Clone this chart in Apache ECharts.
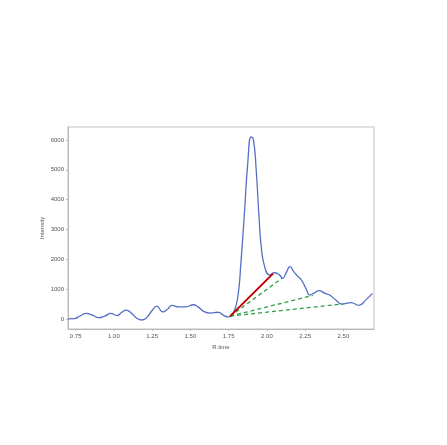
<!DOCTYPE html>
<html>
<head>
<meta charset="utf-8">
<script src="https://cdn.jsdelivr.net/npm/echarts@6/dist/echarts.min.js"></script>
<style>html,body{margin:0;padding:0;background:#fff;}#c{width:447px;height:445px;}</style>
</head>
<body>
<div id="c"></div>
<script>
const rtime = [0.70,0.74,0.78,0.82,0.86,0.90,0.94,0.98,1.02,1.05,1.08,1.12,1.15,1.18,1.21,1.25,1.28,1.32,1.35,1.38,1.42,1.47,1.52,1.55,1.59,1.63,1.68,1.72,1.75,1.78,1.81,1.83,1.853,1.875,1.897,1.912,1.93,1.947,1.963,1.985,2.017,2.05,2.083,2.104,2.125,2.151,2.175,2.20,2.225,2.255,2.28,2.31,2.34,2.38,2.41,2.45,2.49,2.55,2.60,2.65,2.69];
const intensity = [20,25,120,200,140,60,110,200,130,230,310,180,40,-20,40,300,445,250,340,470,420,420,490,420,260,210,240,130,85,200,760,1880,3550,5230,6100,6010,5000,3550,2430,1765,1485,1560,1480,1375,1550,1765,1600,1450,1320,1040,815,890,960,870,815,650,510,560,470,670,870];
const redLine = [[1.76,110],[2.04,1530]];
const greenLines = [
  [[1.76,110],[2.10,1380]],
  [[1.76,110],[2.30,800]],
  [[1.76,110],[2.50,520]]
];
const xTicks = [0.75,1.00,1.25,1.50,1.75,2.00,2.25,2.50];
const yTicks = [0,1000,2000,3000,4000,5000,6000];

const chart = echarts.init(document.getElementById('c'));
const series = [{
  type:'line', data: rtime.map((x,i)=>[x,intensity[i]]), smooth:true, showSymbol:false,
  lineStyle:{color:'#5470c6', width:1.3}, z:2
},{
  type:'line', data: redLine, showSymbol:false, lineStyle:{color:'#c00000', width:2}, z:4
}];
greenLines.forEach(g=>series.push({type:'line', data:g, showSymbol:false, lineStyle:{color:'#2ea043', width:1.3, type:[4,3]}, z:3}));
chart.setOption({
  animation:false,
  grid:{left:68,right:73,top:127,bottom:116,show:true,borderColor:'#d6d6d6',borderWidth:1.5},
  xAxis:{type:'value',min:0.7,max:2.7,name:'R.time',nameLocation:'middle',nameGap:15,nameMoveOverlap:false,
    nameTextStyle:{fontSize:6,color:'#555'},
    axisLine:{show:true,onZero:false,lineStyle:{color:'#b8b8b8',width:1}},
    axisTick:{show:true,length:2,lineStyle:{color:'#b8b8b8'},customValues:xTicks},
    axisLabel:{fontSize:6,color:'#555',margin:4,customValues:xTicks,formatter:v=>v.toFixed(2)},
    splitLine:{show:false}},
  yAxis:{type:'value',min:-320,max:6430,name:'Intensity',nameLocation:'middle',nameGap:23,nameRotate:90,nameMoveOverlap:false,
    nameTextStyle:{fontSize:6,color:'#555'},
    axisLine:{show:true,onZero:false,lineStyle:{color:'#b8b8b8',width:1}},
    axisTick:{show:true,length:2,lineStyle:{color:'#b8b8b8'},customValues:yTicks},
    axisLabel:{fontSize:6,color:'#555',margin:4,customValues:yTicks,formatter:v=>String(v)},
    splitLine:{show:false}},
  series: series
});
</script>
</body>
</html>
